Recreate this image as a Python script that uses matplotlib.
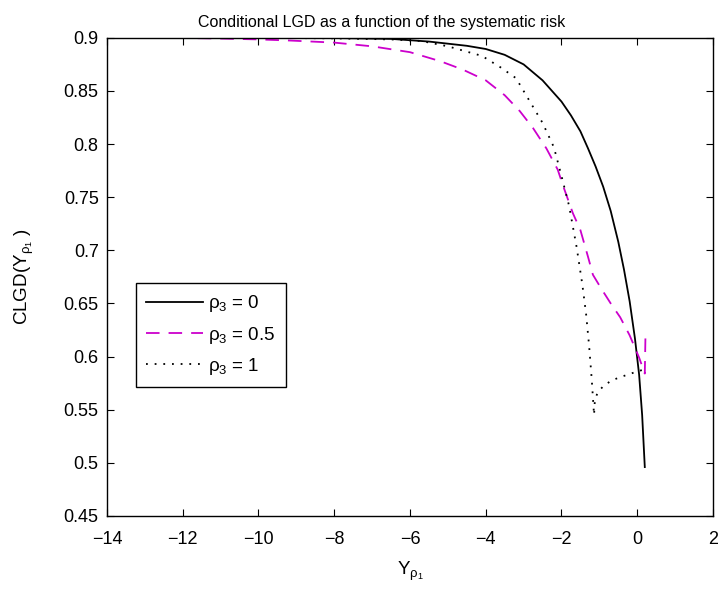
import matplotlib
matplotlib.use("Agg")
import matplotlib.pyplot as plt

plt.rcParams['font.family'] = 'Liberation Sans'
plt.rcParams['mathtext.fontset'] = 'custom'
plt.rcParams['mathtext.rm'] = 'Liberation Sans'
plt.rcParams['mathtext.it'] = 'Liberation Sans'
plt.rcParams['mathtext.bf'] = 'Liberation Sans'

# rho3 = 0
x_r0 = [-12.2, -10, -8, -6.5, -5.5, -4.5, -4.0, -3.5, -3.0, -2.5, -2.0, -1.75, -1.5,
        -1.3, -1.1, -0.9, -0.7, -0.5, -0.35, -0.2, -0.06, 0.05, 0.13, 0.2]
y_r0 = [0.9, 0.9, 0.8998, 0.899, 0.8965, 0.8925, 0.8895, 0.884, 0.875, 0.860, 0.840,
        0.827, 0.812, 0.796, 0.779, 0.760, 0.737, 0.708, 0.682, 0.652, 0.617, 0.583,
        0.545, 0.496]

# rho3 = 0.5
x_r05 = [-12.2, -11, -10, -9.2, -8, -7, -6, -5.2, -4.6, -4.0, -3.5, -3.1, -2.75, -2.4,
         -2.1, -1.95, -1.7, -1.5, -1.3, -1.17, -0.95, -0.7, -0.45, -0.2, 0.05, 0.2, 0.22]
y_r05 = [0.9, 0.8993, 0.8985, 0.8975, 0.8955, 0.892, 0.8865, 0.878, 0.870, 0.860,
         0.846, 0.831, 0.815, 0.796, 0.776, 0.760, 0.735, 0.719, 0.694, 0.677, 0.664,
         0.650, 0.637, 0.620, 0.599, 0.584, 0.625]

# rho3 = 1
x_r1 = [-12.2, -10, -8, -6.5, -5.7, -5.0, -4.5, -4.1, -3.6, -3.2, -2.8, -2.5, -2.2,
        -2.0, -1.8, -1.6, -1.45, -1.35, -1.27, -1.2, -1.14, -1.12, -1.05, -0.9, -0.7,
        -0.5, -0.25, 0.0, 0.2]
y_r1 = [0.9, 0.9, 0.8995, 0.8985, 0.897, 0.892, 0.887, 0.883, 0.872, 0.862, 0.838,
        0.820, 0.797, 0.770, 0.742, 0.703, 0.668, 0.640, 0.610, 0.578, 0.545, 0.558,
        0.566, 0.572, 0.577, 0.580, 0.583, 0.586, 0.588]

xticks = [-14, -12, -10, -8, -6, -4, -2, 0, 2]
yticks = [0.45, 0.5, 0.55, 0.6, 0.65, 0.7, 0.75, 0.8, 0.85, 0.9]
ytick_labels = ['0.45', '0.5', '0.55', '0.6', '0.65', '0.7', '0.75', '0.8', '0.85', '0.9']

fig = plt.figure(figsize=(7.18, 5.91), dpi=100)
ax = fig.add_axes([0.149, 0.127, 0.844, 0.809])

ax.plot(x_r0, y_r0, color='black', lw=1.3, label=r'$\rho_3$ = 0')
ax.plot(x_r05, y_r05, color='#cc00cc', lw=1.3, dashes=(7.5, 5), label=r'$\rho_3$ = 0.5')
ax.plot(x_r1, y_r1, color='black', lw=1.3, dashes=(1, 3.8), label=r'$\rho_3$ = 1')

ax.set_xlim(-14, 2)
ax.set_ylim(0.45, 0.9)
ax.set_xticks(xticks)
ax.set_xticklabels([str(t).replace('-', '\u2212') for t in xticks])
ax.set_yticks(yticks)
ax.set_yticklabels(ytick_labels)
ax.tick_params(direction='in', top=True, right=True, length=5, labelsize=13, pad=6)
ax.tick_params(axis='x', pad=11)
for s in ax.spines.values():
    s.set_linewidth(1.0)

ax.set_title('Conditional LGD as a function of the systematic risk', fontsize=11.5,
             pad=8, x=0.454)
ax.set_xlabel(r'Y$_{\rho_1}$', fontsize=13.5, labelpad=8)
ax.set_ylabel(r'CLGD(Y$_{\rho_1}$ )', fontsize=13.5, labelpad=20)

leg = ax.legend(loc='upper left', bbox_to_anchor=(0.048, 0.487), borderaxespad=0,
                fontsize=13.5, fancybox=False, edgecolor='black', framealpha=1,
                handlelength=3.0, handletextpad=0.3, labelspacing=0.55, borderpad=0.55)
leg.get_frame().set_linewidth(1.0)

plt.savefig('out.png', dpi=100)
plt.close()
